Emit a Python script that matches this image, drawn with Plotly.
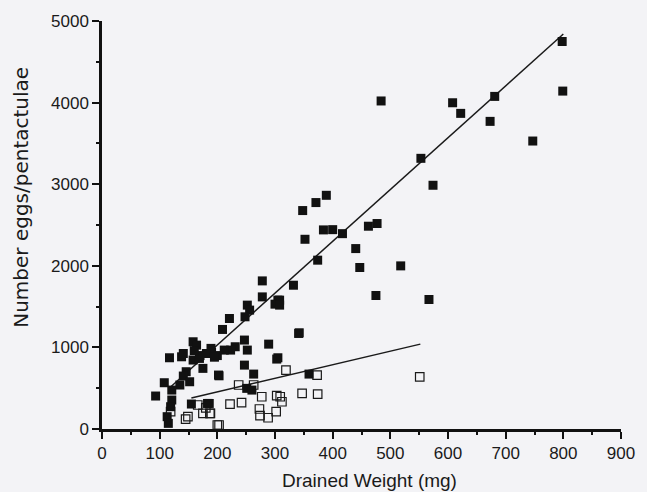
import plotly.graph_objects as go

# Filled squares (eggs)
filled_x = [484, 608, 622, 681, 673, 799, 798, 747, 553, 574, 389, 371, 348, 352,
            384, 400, 417, 462, 477, 440, 374, 447, 518, 332, 475, 567, 305, 300,
            341, 305, 278, 278, 308, 308, 252, 256, 248, 221, 209, 342, 247, 252,
            289, 231, 223, 190, 200, 212, 303, 247, 263, 203, 251, 260, 359, 186,
            158, 164, 189, 181, 138, 141, 117, 158, 169, 175, 202, 146, 141, 152,
            108, 135, 121, 93, 121, 119, 183, 155, 113, 115, 170, 160, 195]
filled_y = [4020, 3998, 3868, 4076, 3770, 4141, 4749, 3529, 3317, 2987, 2864, 2775, 2677, 2325,
            2440, 2443, 2394, 2485, 2518, 2211, 2069, 1979, 1999, 1762, 1636, 1587, 1579, 1530,
            1171, 873, 1815, 1619, 1579, 1518, 1518, 1457, 1375, 1354, 1220, 1179, 1090, 967,
            1040, 1008, 967, 940, 900, 967, 857, 783, 673, 652, 498, 477, 673, 313,
            1069, 1028, 988, 925, 885, 925, 873, 845, 865, 743, 661, 702, 649, 579,
            567, 539, 477, 404, 355, 273, 313, 306, 151, 69, 900, 960, 880]

# Open squares (pentactulae)
open_x = [319, 373, 237, 263, 277, 303, 309, 312, 347, 374, 222, 242, 273, 274,
          288, 302, 203, 188, 149, 166, 175, 187, 119, 200, 551, 145, 180]
open_y = [722, 661, 539, 539, 395, 408, 395, 334, 436, 428, 306, 322, 245, 163,
          138, 212, 49, 192, 151, 294, 192, 192, 212, 49, 640, 120, 260]

# Regression line end points
eggs_line_x = [115, 800]
eggs_line_y = [490, 4840]
pent_line_x = [155, 552]
pent_line_y = [380, 1040]

x_ticks = [0, 100, 200, 300, 400, 500, 600, 700, 800, 900]
y_ticks = [0, 1000, 2000, 3000, 4000, 5000]

fig = go.Figure()
fig.add_trace(go.Scatter(x=eggs_line_x, y=eggs_line_y, mode="lines",
                         line=dict(color="#1a1a1a", width=1.5), showlegend=False))
fig.add_trace(go.Scatter(x=pent_line_x, y=pent_line_y, mode="lines",
                         line=dict(color="#1a1a1a", width=1.5), showlegend=False))
fig.add_trace(go.Scatter(x=open_x, y=open_y, mode="markers",
                         marker=dict(symbol="square-open", size=8.5, color="#1a1a1a",
                                     line=dict(width=1.2)),
                         showlegend=False))
fig.add_trace(go.Scatter(x=filled_x, y=filled_y, mode="markers",
                         marker=dict(symbol="square", size=9, color="#111111",
                                     line=dict(width=0)),
                         showlegend=False))

bg = "#f3f3f6"
font = dict(family="Liberation Sans, Arial, sans-serif", color="#1a1a1a")
axis_common = dict(ticks="outside", ticklen=7, tickwidth=2, tickcolor="#111",
                   showline=True, linewidth=2.5, linecolor="#111", showgrid=False,
                   zeroline=False, tickfont=dict(size=17))
fig.update_layout(
    width=647, height=492,
    margin=dict(l=102, r=16, t=20, b=63),
    paper_bgcolor=bg, plot_bgcolor=bg,
    font=font,
    xaxis=dict(range=[0, 900], tickvals=x_ticks,
               minor=dict(dtick=50, ticks="outside", ticklen=3, tickwidth=2,
                          tickcolor="#111"),
               **axis_common),
    yaxis=dict(range=[0, 5000], tickvals=y_ticks,
               minor=dict(dtick=500, ticks="outside", ticklen=3, tickwidth=2,
                          tickcolor="#111"),
               **axis_common),
    annotations=[
        dict(text="Drained Weight (mg)", xref="paper", yref="paper",
             x=0.516, y=-0.126, xanchor="center", yanchor="middle",
             showarrow=False, font=dict(size=19)),
        dict(text="Number eggs/pentactulae", xref="paper", yref="paper",
             x=-0.155, y=0.568, xanchor="center", yanchor="middle",
             textangle=-90, showarrow=False,
             font=dict(size=20, family="DejaVu Sans, Liberation Sans, sans-serif")),
    ],
)
fig.write_html("out.html", config={"displayModeBar": False},
               post_script="document.body.style.margin='0';"
                           "document.body.style.background='%s';" % bg)
